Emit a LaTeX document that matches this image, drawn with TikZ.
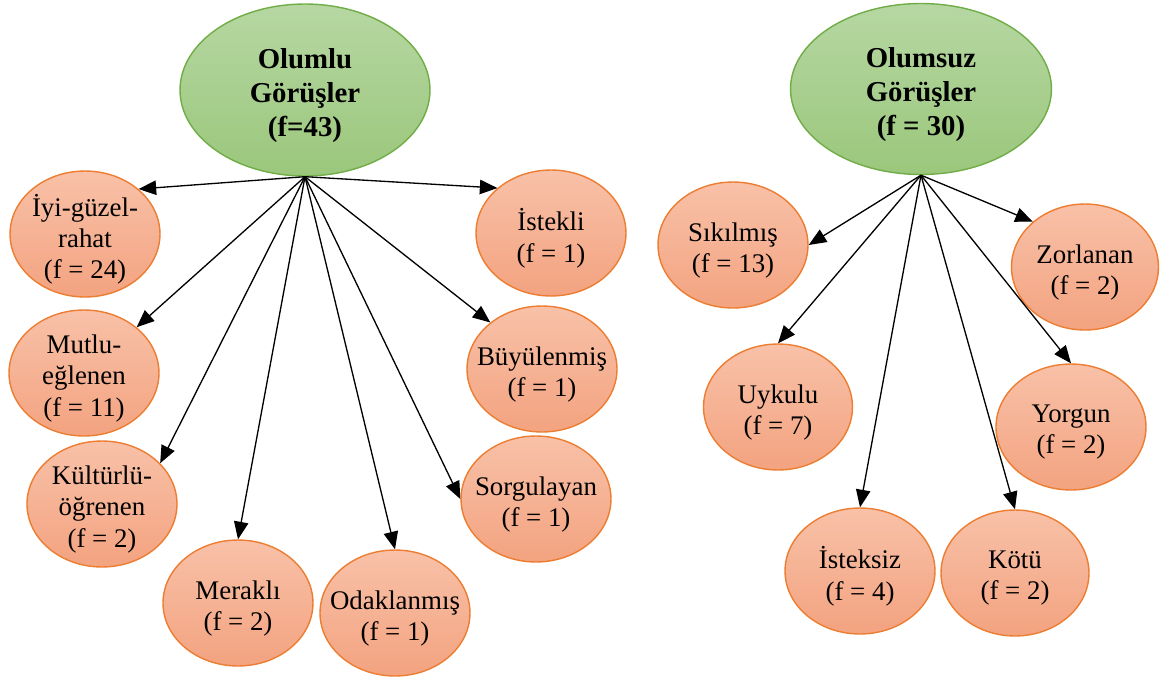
\documentclass[tikz,border=0pt]{standalone}
\usepackage{fontspec}
\setmainfont{Liberation Serif}
\usetikzlibrary{shapes.geometric,arrows.meta}
\definecolor{gtop}{RGB}{182,215,162}
\definecolor{gbot}{RGB}{155,199,124}
\definecolor{gline}{RGB}{112,173,71}
\definecolor{otop}{RGB}{248,193,168}
\definecolor{obot}{RGB}{243,163,128}
\definecolor{oline}{RGB}{237,125,49}
\tikzset{
  headtext/.style={inner sep=0pt, align=center, font=\fontsize{16.4}{19.3}\selectfont\bfseries, yshift=-3pt},
  headbox/.style={ellipse, draw=gline, line width=0.8pt, top color=gtop, bottom color=gbot,
    inner sep=0pt, label={[headtext]center:#1}},
  leaftext/.style={inner sep=0pt, align=center, font=\fontsize{15.3}{17.8}\selectfont, yshift=-3pt},
  leafbox/.style={ellipse, draw=oline, line width=0.8pt, top color=otop, bottom color=obot,
    inner sep=0pt, minimum width=3cm, minimum height=2.52cm,
    label={[leaftext]center:#1}},
  link/.style={draw=black, line width=0.75pt, -{Triangle[length=10pt,width=8.2pt]}}
}
\begin{document}
\begin{tikzpicture}[x=0.02cm,y=-0.02cm]
\useasboundingbox (0,0) rectangle (1161,677);
% positive opinions
\node[headbox={Olumlu\\Görüşler\\(f=43)}, minimum width=5cm, minimum height=3.44cm] (pos) at (305,90) {};
\node[leafbox={İyi-güzel-\\rahat\\(f = 24)}] (iyi)   at (85,234)  {};
\node[leafbox={Mutlu-\\eğlenen\\(f = 11)}]   (mutlu) at (84,373)  {};
\node[leafbox={Kültürlü-\\öğrenen\\(f = 2)}] (kult)  at (102,504) {};
\node[leafbox={Meraklı\\(f = 2)}]            (merak) at (238,603) {};
\node[leafbox={Odaklanmış\\(f = 1)}]         (odak)  at (395,613) {};
\node[leafbox={Sorgulayan\\(f = 1)}]         (sorgu) at (536,499) {};
\node[leafbox={Büyülenmiş\\(f = 1)}]         (buyu)  at (542,369) {};
\node[leafbox={İstekli\\(f = 1)}]            (istek) at (551,233) {};
% negative opinions
\node[headbox={Olumsuz\\Görüşler\\(f = 30)}, minimum width=5.22cm, minimum height=3.42cm] (neg) at (921,89) {};
\node[leafbox={Sıkılmış\\(f = 13)}]          (sikil) at (733,245)  {};
\node[leafbox={Zorlanan\\(f = 2)}, minimum width=2.94cm] (zorl) at (1085,267) {};
\node[leafbox={Uykulu\\(f = 7)}, minimum width=2.98cm]   (uyku) at (778,407) {};
\node[leafbox={Yorgun\\(f = 2)}]             (yorg)  at (1071,427) {};
\node[leafbox={İsteksiz\\(f = 4)}]           (istks) at (860,571)  {};
\node[leafbox={Kötü\\(f = 2)}, minimum width=2.96cm]     (kotu) at (1015,573) {};
% connectors
\draw[link] (pos.south) -- (iyi.40);
\draw[link] (pos.south) -- (mutlu.41);
\draw[link] (pos.south) -- (kult.35);
\draw[link] (pos.south) -- (merak.north);
\draw[link] (pos.south) -- (odak.north);
\draw[link] (pos.south) -- (sorgu.west);
\draw[link] (pos.south) -- (buyu.138);
\draw[link] (pos.south) -- (istek.140);
\draw[link] (neg.south) -- (sikil.east);
\draw[link] (neg.south) -- (uyku.north);
\draw[link] (neg.south) -- (zorl.139);
\draw[link] (neg.south) -- (yorg.north);
\draw[link] (neg.south) -- (istks.north);
\draw[link] (neg.south) -- (kotu.north);
\end{tikzpicture}
\end{document}
